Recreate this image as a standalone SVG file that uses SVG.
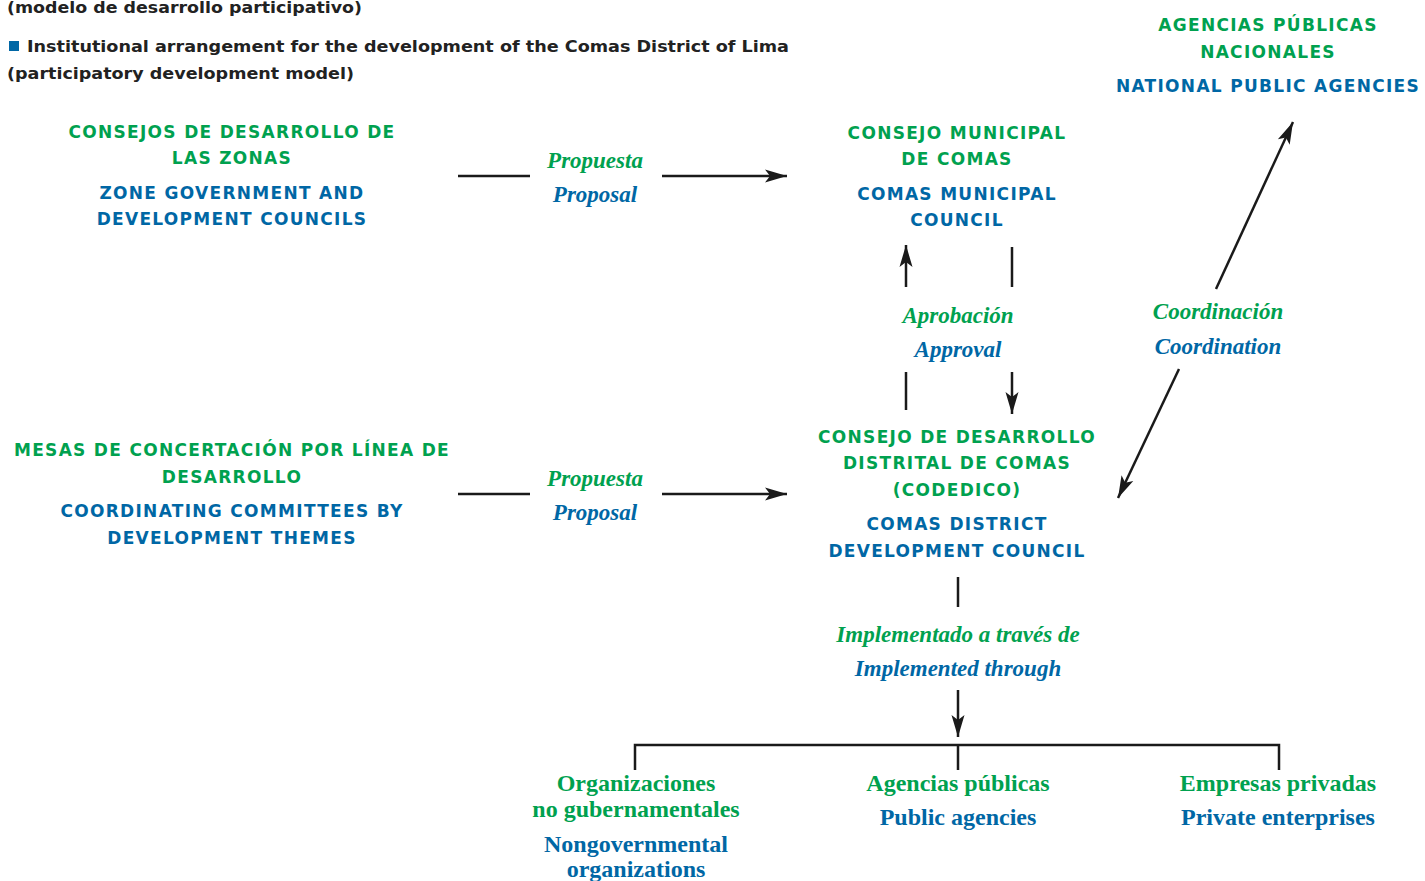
<svg xmlns="http://www.w3.org/2000/svg" width="1425" height="881" viewBox="0 0 1425 881">
<defs>
<marker id="ah" markerUnits="userSpaceOnUse" markerWidth="26" markerHeight="16" viewBox="-1 -8 26 16" refX="22" refY="0" orient="auto">
<path d="M0,-6.5 L22,0 L0,6.5 L5,0 z" fill="#1a1a1a"/>
</marker>
</defs>
<style>
.t{font-family:"DejaVu Sans",sans-serif;font-weight:bold;font-size:16px;fill:#222}
.h{font-family:"DejaVu Sans",sans-serif;font-weight:bold;font-size:17px;letter-spacing:1.3px;text-anchor:middle}
.g{fill:#00a14f}
.b{fill:#0067a5}
.i{font-family:"Liberation Serif","DejaVu Serif",serif;font-style:italic;font-weight:bold;font-size:23px;text-anchor:middle}
.s{font-family:"Liberation Serif","DejaVu Serif",serif;font-weight:bold;font-size:24px;text-anchor:middle}
.c{stroke:#1a1a1a;stroke-width:2.5;fill:none}
</style>
<rect width="1425" height="881" fill="#fff"/>
<g id="title">
<text class="t" x="7" y="13" textLength="355" lengthAdjust="spacingAndGlyphs">(modelo de desarrollo participativo)</text>
<rect x="9" y="41" width="10" height="10" fill="#0067a5"/>
<text class="t" x="27" y="52" textLength="762" lengthAdjust="spacingAndGlyphs">Institutional arrangement for the development of the Comas District of Lima</text>
<text class="t" x="7" y="79" textLength="347" lengthAdjust="spacingAndGlyphs">(participatory development model)</text>
</g>
<g id="zone-councils">
<text class="h g" x="232" y="138">CONSEJOS DE DESARROLLO DE</text>
<text class="h g" x="232" y="164">LAS ZONAS</text>
<text class="h b" x="232" y="199">ZONE GOVERNMENT AND</text>
<text class="h b" x="232" y="225">DEVELOPMENT COUNCILS</text>
</g>
<g id="municipal-council">
<text class="h g" x="957" y="139">CONSEJO MUNICIPAL</text>
<text class="h g" x="957" y="165">DE COMAS</text>
<text class="h b" x="957" y="200">COMAS MUNICIPAL</text>
<text class="h b" x="957" y="226">COUNCIL</text>
</g>
<g id="national-agencies">
<text class="h g" x="1268" y="31">AGENCIAS PÚBLICAS</text>
<text class="h g" x="1268" y="58">NACIONALES</text>
<text class="h b" x="1268" y="92">NATIONAL PUBLIC AGENCIES</text>
</g>
<g id="coordinating-committees">
<text class="h g" x="232" y="456">MESAS DE CONCERTACIÓN POR LÍNEA DE</text>
<text class="h g" x="232" y="483">DESARROLLO</text>
<text class="h b" x="232" y="517">COORDINATING COMMITTEES BY</text>
<text class="h b" x="232" y="544">DEVELOPMENT THEMES</text>
</g>
<g id="codedico">
<text class="h g" x="957" y="443">CONSEJO DE DESARROLLO</text>
<text class="h g" x="957" y="469">DISTRITAL DE COMAS</text>
<text class="h g" x="957" y="496">(CODEDICO)</text>
<text class="h b" x="957" y="530">COMAS DISTRICT</text>
<text class="h b" x="957" y="557">DEVELOPMENT COUNCIL</text>
</g>
<g id="ngo">
<text class="s g" x="636" y="791">Organizaciones</text>
<text class="s g" x="636" y="817">no gubernamentales</text>
<text class="s b" x="636" y="852">Nongovernmental</text>
<text class="s b" x="636" y="877">organizations</text>
</g>
<g id="public-agencies">
<text class="s g" x="958" y="791">Agencias públicas</text>
<text class="s b" x="958" y="825">Public agencies</text>
</g>
<g id="private-enterprises">
<text class="s g" x="1278" y="791">Empresas privadas</text>
<text class="s b" x="1278" y="825">Private enterprises</text>
</g>
<g id="connectors">
<line class="c" x1="458" y1="176" x2="530" y2="176"/>
<line class="c" x1="662" y1="176" x2="787" y2="176" marker-end="url(#ah)"/>
<text class="i g" x="595" y="168">Propuesta</text>
<text class="i b" x="595" y="202">Proposal</text>
<line class="c" x1="458" y1="494" x2="530" y2="494"/>
<line class="c" x1="662" y1="494" x2="787" y2="494" marker-end="url(#ah)"/>
<text class="i g" x="595" y="486">Propuesta</text>
<text class="i b" x="595" y="520">Proposal</text>
<line class="c" x1="906" y1="410" x2="906" y2="372"/>
<line class="c" x1="906" y1="287" x2="906" y2="245" marker-end="url(#ah)"/>
<line class="c" x1="1012" y1="247" x2="1012" y2="287"/>
<line class="c" x1="1012" y1="372" x2="1012" y2="414" marker-end="url(#ah)"/>
<text class="i g" x="958" y="323">Aprobación</text>
<text class="i b" x="958" y="357">Approval</text>
<line class="c" x1="1216" y1="289" x2="1293" y2="122" marker-end="url(#ah)"/>
<line class="c" x1="1179" y1="369" x2="1118" y2="498" marker-end="url(#ah)"/>
<text class="i g" x="1218" y="319">Coordinación</text>
<text class="i b" x="1218" y="354">Coordination</text>
<line class="c" x1="958" y1="577" x2="958" y2="607"/>
<line class="c" x1="958" y1="690" x2="958" y2="737" marker-end="url(#ah)"/>
<text class="i g" x="958" y="642">Implementado a través de</text>
<text class="i b" x="958" y="676">Implemented through</text>
<path class="c" d="M635,770 V745 H1279 V770 M958,745 V770"/>
</g>
</svg>
